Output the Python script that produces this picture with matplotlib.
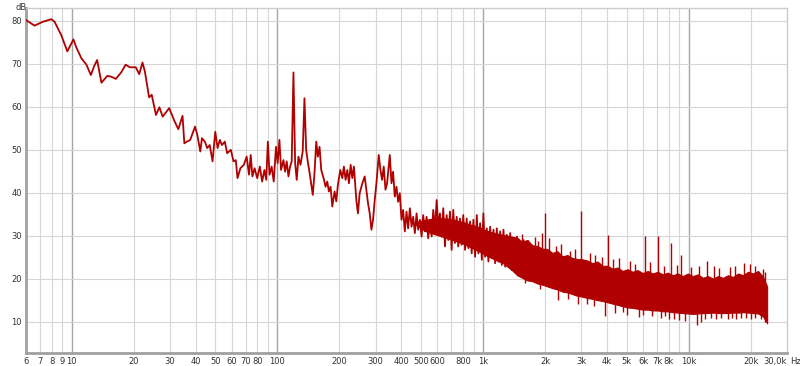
import numpy as np
import matplotlib
matplotlib.use("Agg")
import matplotlib.pyplot as plt
from matplotlib.ticker import NullLocator

# --- data ---
# measured trace (Hz, dB), 6 Hz .. 1.7 kHz
trace_f = [6.0, 6.6, 7.25, 7.96, 8.26, 8.9, 9.53, 10.2, 10.5, 11.15, 11.8, 12.4, 12.85, 13.3,
           13.96, 14.9, 15.6, 16.4, 17.4, 18.3, 19.2, 20.5, 21.3, 22.1, 22.7, 23.8, 24.5, 25.7,
           26.7, 27.7, 29.8, 31.4, 33.0, 34.6, 35.3, 36.3, 37.7, 38.5, 39.8, 40.8, 42.2, 43.0,
           44.4, 45.6, 46.9, 48.4, 49.9, 51.2, 52.5, 53.8, 55.5, 57.0, 59.4, 61.2, 62.8, 64.0,
           66.1, 68.7, 70.9, 72.8, 74.2, 75.6, 77.5, 79.8, 82.2, 84.3, 86.5, 88.3, 89.9, 91.6,
           93.8, 96.0,
           98.5, 100.3, 102.3, 104.2, 107.0, 109.0, 111.0, 113.2, 115.3, 117.4, 119.7, 122.0,
           124.2, 126.6, 129.5, 132.8, 135.4, 138.0, 140.5, 144.3, 148.6, 151.5, 154.5, 157.3,
           160.3, 163.4, 167.7, 171.5, 174.8, 178.0, 181.4, 184.9, 189.7, 193.4, 196.8, 202.2,
           206.8, 210.5, 214.6, 218.8, 222.8, 227.1, 231.4, 235.6, 242.0, 246.4, 251.2,
           258.9, 265.7, 270.8, 275.7, 281.1, 286.5, 291.7, 297.3, 303.0, 310.9, 317.0, 322.7,
           328.9, 335.3, 341.4, 351.9, 358.6, 365.1, 372.1, 379.3, 386.2, 393.6, 401.2, 408.5,
           416.4, 424.4, 432.1, 440.5, 449.0, 457.1, 465.9, 474.9, 483.5, 492.8, 502.3, 511.4,
           521.3, 531.3, 541.0, 551.4, 562.1, 572.3, 583.4, 594.6, 605.4, 616.9,
           628.8, 640.2, 652.5, 665.1, 677.2, 690, 703, 716, 730, 744, 757, 772, 786, 801, 817,
           832, 848, 864, 880, 897, 914, 932, 949, 967, 986, 1003, 1023, 1042, 1061, 1082, 1102,
           1123, 1144, 1166, 1188, 1210, 1233, 1256, 1280, 1304, 1329, 1354, 1380, 1406, 1433,
           1460, 1487, 1515, 1544, 1573, 1603, 1633, 1663, 1695]
trace_db = [80.2, 78.9, 79.8, 80.4, 79.8, 76.7, 72.9, 75.7, 74.0, 71.3, 69.8, 67.4, 69.4, 70.9,
            65.6, 67.2, 67.0, 66.5, 68.0, 69.8, 69.2, 69.2, 67.6, 70.3, 68.2, 62.2, 62.8, 58.1,
            59.9, 57.7, 59.7, 57.0, 54.8, 57.9, 51.5, 51.9, 52.3, 53.5, 55.4, 53.5, 49.6, 52.7,
            51.9, 50.4, 51.1, 47.3, 54.2, 50.4, 52.3, 51.1, 51.9, 49.2, 50.0, 47.3, 47.6, 43.4,
            45.7, 46.5, 48.4, 44.2, 48.8, 43.8, 45.7, 43.4, 46.1, 42.6, 45.3, 43.0, 51.9, 44.2,
            46.1, 42.6,
            50.7, 46.9, 52.3, 45.3, 47.6, 44.9, 47.3, 43.8, 46.1, 47.3, 68.0, 46.9,
            43.0, 48.4, 46.5, 49.6, 62.0, 50.0, 47.3, 43.8, 39.5, 44.5, 51.9, 48.4,
            50.7, 45.3, 43.4, 41.4, 42.6, 40.3, 41.4, 36.8, 40.3, 38.0, 41.8, 45.3,
            43.4, 46.1, 43.0, 45.3, 42.2, 46.5, 43.4, 46.1, 38.3, 35.2, 39.9,
            42.2, 43.8, 40.7, 37.6, 35.2, 31.4, 33.7, 38.3, 42.2, 48.8, 45.3, 43.0,
            46.1, 40.7, 42.2, 48.8, 42.2, 44.9, 39.1, 41.4, 37.9, 39.9, 33.7, 36.0,
            31.0, 35.6, 31.7, 36.4, 32.1, 34.4, 30.6, 35.2, 31.4, 33.7, 29.8, 34.8,
            31.0, 34.4, 29.4, 33.7, 29.8, 36.0, 31.4, 38.3, 32.1, 35.2,
            29.8, 36.4, 27.5, 34.8, 29.0, 35.6, 26.7, 36.0, 28.3, 34.4, 27.5, 34.0, 27.9, 34.8, 26.7,
            34.0, 27.1, 33.3, 25.9, 33.7, 25.1, 34.8, 25.9, 32.9, 24.4, 35.2, 25.1, 31.7, 24.0, 32.1, 24.8,
            31.4, 23.6, 31.7, 24.0, 31.0, 23.2, 31.4, 22.8, 30.2, 23.2, 30.6, 22.0, 29.4, 22.4,
            29.8, 21.3, 28.3, 21.6, 29.0, 20.1, 27.1, 20.9, 27.5]

# solid core of the trace where it gets dense (Hz, upper dB, lower dB)
core_f = [450, 520, 600, 700, 800, 900, 1000]
core_hi = [33.0, 33.8, 34.3, 34.0, 33.3, 32.5, 31.8]
core_lo = [33.0, 31.0, 30.0, 29.0, 28.0, 26.8, 25.8]

# dense noise band above ~1 kHz (Hz, upper dB, lower dB)
band_f = [1000, 1100, 1250, 1380,
          1465, 1550, 1639, 1734, 1834, 1940, 2052, 2171, 2296, 2429, 2569, 2718, 2874, 3041,
          3216, 3402, 3598, 3806, 4026, 4259, 4505, 4764, 5040, 5331, 5639, 5965, 6310, 6674,
          7060, 7468, 7899, 8356, 8838, 9349, 9888, 10460, 11065, 11704, 12380, 13095, 13852,
          14652, 15499, 16394, 17341, 18343, 19403, 20523, 21709, 22963, 24019]
band_hi = [31.5, 30.8, 30.2, 29.8,
           29.5, 28.6, 29.0, 27.8, 27.6, 27.0, 26.9, 26.0, 26.4, 25.2, 25.5, 24.8, 24.6, 24.5,
           24.2, 23.6, 24.0, 23.0, 23.0, 22.3, 22.6, 21.8, 22.2, 21.6, 22.0, 21.3, 21.8, 21.2,
           21.6, 21.0, 21.4, 20.8, 21.2, 20.6, 21.2, 20.6, 21.0, 20.2, 20.6, 20.0, 20.6,
           20.2, 20.8, 20.4, 21.2, 20.8, 21.6, 21.2, 21.8, 20.4, 18.2]
band_lo = [25.8, 24.8, 23.6, 22.0,
           20.8, 20.2, 19.6, 19.4, 18.9, 18.6, 18.2, 17.8, 17.5, 17.0, 16.8, 16.4, 16.0, 15.8,
           15.5, 15.3, 15.0, 14.8, 14.5, 14.2, 13.9, 13.6, 13.3, 13.2, 13.0, 12.8, 12.8, 12.6,
           12.6, 12.4, 12.4, 12.2, 12.1, 12.0, 11.9, 11.8, 11.9, 12.0, 12.0, 12.1, 12.0,
           12.0, 12.0, 12.1, 12.1, 12.2, 12.1, 12.0, 11.9, 11.2, 9.6]

# narrow peaks sticking out of the top of the band
spike_f = [1780, 1940, 2000, 2100, 3000, 4030, 6100, 7100, 8200, 9200, 12300, 13300, 18500, 22900,
           1550, 1650, 1850, 2250, 2400, 2650, 2800, 3300, 3500, 3800, 4300, 4600, 5200, 5500,
           6500, 7600, 8800, 10200, 11200, 14000, 15800, 16800, 19800, 21000, 23500]
spike_top = [29.8, 30.6, 35.2, 29.5, 35.7, 30.2, 30.0, 30.0, 28.3, 25.5, 24.2, 23.0, 23.6, 22.3,
             30.5, 29.0, 28.8, 27.5, 28.0, 26.5, 27.0, 26.0, 25.5, 25.0, 24.5, 24.8, 24.0, 23.5,
             23.8, 23.0, 23.2, 22.8, 23.0, 22.5, 22.8, 23.0, 23.4, 23.0, 21.5]
spike_base = [24.0, 24.0, 24.0, 23.0, 21.0, 19.0, 18.0, 18.0, 18.0, 18.0, 17.0, 17.0, 17.0, 17.0,
              27.0, 27.0, 26.0, 25.0, 24.0, 24.0, 23.5, 23.0, 22.5, 22.0, 21.5, 21.5, 21.0, 21.0,
              20.5, 20.0, 20.0, 20.0, 19.5, 19.5, 19.5, 19.5, 20.0, 20.0, 19.0]

# narrow dips below the band
dip_f = [2300, 2900, 3450, 3900, 5000, 5700, 6600, 7300, 8000, 9000, 10900, 12000, 13500,
         14400, 17000, 19000, 21000, 22500,
         1600, 1900, 2600, 3200, 4400, 4800, 6000, 7700, 8500, 9600, 11500, 12800, 15500,
         16200, 18000, 20000, 23500]
dip_bottom = [15.0, 14.0, 13.6, 11.2, 11.6, 11.0, 11.2, 10.8, 10.6, 10.4, 9.2, 10.6, 10.5,
              10.8, 10.6, 10.8, 10.9, 10.5,
              19.0, 17.5, 15.2, 14.0, 12.0, 12.3, 11.5, 11.2, 10.6, 10.2, 10.0, 10.8, 10.6,
              10.9, 10.8, 10.5, 9.8]
dip_top = [18.5, 17.0, 16.5, 16.0, 15.0, 14.5, 14.0, 14.0, 13.5, 13.5, 13.0, 13.0, 13.0,
           13.0, 13.0, 13.0, 13.0, 13.0,
           21.0, 19.5, 17.5, 16.5, 15.0, 14.5, 14.0, 13.5, 13.5, 13.0, 13.0, 13.0, 13.0,
           13.0, 13.0, 13.0, 12.0]

xtick_pos = [6, 7, 8, 9, 10, 20, 30, 40, 50, 60, 70, 80, 100, 200, 300, 400, 500, 600, 800,
             1000, 2000, 3000, 4000, 5000, 6000, 7000, 8000, 10000, 20000, 30000]
xtick_lab = ['6', '7', '8', '9', '10', '20', '30', '40', '50', '60', '70', '80', '100', '200',
             '300', '400', '500', '600', '800', '1k', '2k', '3k', '4k', '5k', '6k', '7k', '8k',
             '10k', '20k', '30,0k']
grid_f = [7, 8, 9, 20, 30, 40, 50, 60, 70, 80, 90, 200, 300, 400, 500, 600, 700, 800, 900,
          2000, 3000, 4000, 5000, 6000, 7000, 8000, 9000, 20000]
decade_f = [10, 100, 1000, 10000]
ytick_pos = [10, 20, 30, 40, 50, 60, 70, 80]

red = '#b00000'

fig = plt.figure(figsize=(8, 3.66), dpi=100)
ax = fig.add_axes([26/800, 13/366, 761/800, 345/366])
ax.set_xscale('log')
ax.set_xlim(6, 30000)
ax.set_ylim(2.7, 83)

for f in grid_f:
    ax.axvline(f, color='#d6d6d6', lw=0.8, zorder=0)
for f in decade_f:
    ax.axvline(f, color='#a6a6a6', lw=1.0, zorder=0)
for y in ytick_pos:
    ax.axhline(y, color='#d6d6d6', lw=0.8, zorder=0)

ax.fill_between(band_f, band_lo, band_hi, color=red, lw=0.8, zorder=2)
ax.fill_between(core_f, core_lo, core_hi, color=red, lw=0, zorder=2)
ax.vlines(spike_f, spike_base, spike_top, color=red, lw=1.0, zorder=2)
ax.vlines(dip_f, dip_bottom, dip_top, color=red, lw=1.0, zorder=2)
ax.plot(trace_f, trace_db, color=red, lw=1.3, zorder=3)

ax.set_xticks(xtick_pos, xtick_lab)
ax.xaxis.set_minor_locator(NullLocator())
ax.set_yticks(ytick_pos)
ax.tick_params(length=0, labelsize=6, labelcolor='#333333', pad=3)
ax.get_xticklabels()[-1].set_ha('right')

for side in ['left', 'bottom']:
    ax.spines[side].set_color('#a0a0a0')
    ax.spines[side].set_linewidth(2)
for side in ['top', 'right']:
    ax.spines[side].set_color('#cccccc')
    ax.spines[side].set_linewidth(1)

fig.text(15/800, 1 - 7/366, 'dB', fontsize=6, color='#333333', va='center')
fig.text(790/800, 1 - 361/366, 'Hz', fontsize=6, color='#333333', va='center')

fig.savefig('out.png', dpi=100)
